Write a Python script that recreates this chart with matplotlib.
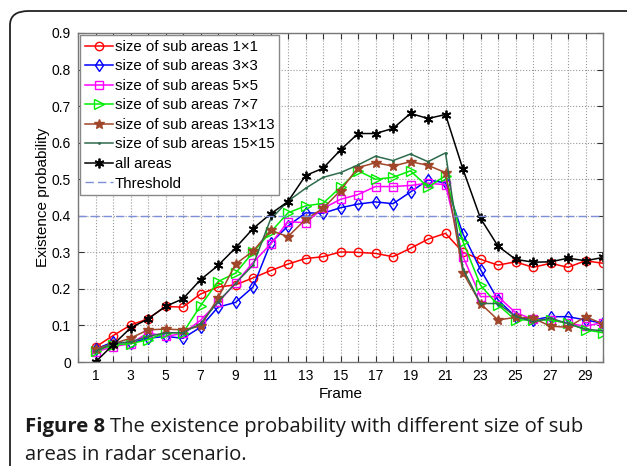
import matplotlib
matplotlib.use("Agg")
import matplotlib.pyplot as plt
from matplotlib.patches import FancyBboxPatch
import numpy as np

frames = list(range(1, 31))
s1x1 = [0.041, 0.072, 0.101, 0.118, 0.152, 0.150, 0.186, 0.205, 0.211, 0.230,
        0.250, 0.268, 0.283, 0.288, 0.301, 0.300, 0.297, 0.288, 0.311, 0.336,
        0.352, 0.300, 0.281, 0.265, 0.274, 0.259, 0.270, 0.259, 0.277, 0.270]
s3x3 = [0.035, 0.055, 0.052, 0.065, 0.070, 0.065, 0.095, 0.150, 0.163, 0.205,
        0.325, 0.372, 0.408, 0.407, 0.422, 0.432, 0.438, 0.433, 0.465, 0.498,
        0.490, 0.350, 0.253, 0.170, 0.124, 0.115, 0.124, 0.124, 0.115, 0.106]
s5x5 = [0.027, 0.042, 0.050, 0.080, 0.070, 0.078, 0.114, 0.163, 0.215, 0.272,
        0.322, 0.384, 0.381, 0.420, 0.445, 0.458, 0.480, 0.480, 0.483, 0.489,
        0.485, 0.288, 0.179, 0.179, 0.135, 0.117, 0.115, 0.106, 0.098, 0.108]
s7x7 = [0.030, 0.047, 0.050, 0.061, 0.080, 0.080, 0.154, 0.220, 0.243, 0.300,
        0.355, 0.408, 0.427, 0.434, 0.478, 0.523, 0.500, 0.505, 0.523, 0.478,
        0.510, 0.329, 0.210, 0.156, 0.115, 0.115, 0.115, 0.106, 0.088, 0.080]
s13x13 = [0.036, 0.050, 0.065, 0.088, 0.090, 0.088, 0.098, 0.175, 0.268, 0.303,
          0.360, 0.343, 0.390, 0.420, 0.469, 0.532, 0.545, 0.536, 0.548, 0.538,
          0.518, 0.244, 0.160, 0.115, 0.122, 0.120, 0.098, 0.095, 0.124, 0.104]
s15x15 = [0.030, 0.050, 0.055, 0.070, 0.080, 0.080, 0.105, 0.165, 0.215, 0.265,
          0.390, 0.440, 0.475, 0.505, 0.518, 0.539, 0.563, 0.551, 0.569, 0.548,
          0.572, 0.255, 0.160, 0.160, 0.125, 0.110, 0.120, 0.105, 0.090, 0.085]
all_areas = [0.000, 0.047, 0.093, 0.118, 0.152, 0.173, 0.225, 0.264, 0.312, 0.365,
             0.405, 0.439, 0.510, 0.530, 0.580, 0.625, 0.625, 0.639, 0.680, 0.666,
             0.677, 0.527, 0.393, 0.317, 0.281, 0.273, 0.274, 0.284, 0.277, 0.286]
threshold = 0.4

labels = ["size of sub areas 1\u00d71", "size of sub areas 3\u00d73",
          "size of sub areas 5\u00d75", "size of sub areas 7\u00d77",
          "size of sub areas 13\u00d713", "size of sub areas 15\u00d715",
          "all areas", "Threshold"]

plt.rcParams['font.family'] = ['Liberation Sans', 'DejaVu Sans']

fig = plt.figure(figsize=(6.27, 4.66), dpi=100)
ax = fig.add_axes([78/627, 1-362/466, (603-78)/627, (362-33)/466])

ax.plot(frames, s1x1, color='#ff0000', marker='o', mfc='none', ms=6, lw=1.1, label=labels[0])
ax.plot(frames, s3x3, color='#0000ff', marker='d', mfc='none', ms=6, lw=1.1, label=labels[1])
ax.plot(frames, s5x5, color='#ff00ff', marker='s', mfc='none', ms=6, lw=1.1, label=labels[2])
ax.plot(frames, s7x7, color='#00ee00', marker='>', mfc='none', ms=7, lw=1.1, label=labels[3])
ax.plot(frames, s13x13, color='#a0462a', marker='*', ms=7, lw=1.1, label=labels[4])
ax.plot(frames, s15x15, color='#2e6b4c', marker='.', ms=2, lw=1.1, label=labels[5])
ax.plot(frames, all_areas, color='#000000', marker=(6, 2, 0), ms=7, mew=1.3, lw=1.1, label=labels[6])
ax.axhline(threshold, color='#7d8fd8', ls='--', lw=1.0, dashes=(6, 3), label=labels[7])

ax.set_xlim(0, 30)
ax.set_ylim(0, 0.9)
ax.set_xticks(range(0, 31))
ax.set_xticklabels([str(i) if i % 2 == 1 else '' for i in range(0, 31)])
ax.set_yticks(np.arange(0, 0.91, 0.1))
ax.set_yticklabels(['0'] + ['%.1f' % v for v in np.arange(0.1, 0.91, 0.1)])
ax.tick_params(direction='in', length=4, labelsize=10, color='#333333', top=True, right=True, pad=5)
ax.grid(True, ls=':', color='#999999', lw=0.8)
for sp in ax.spines.values():
    sp.set_color('#777777')
    sp.set_linewidth(1.0)

ax.set_xlabel('Frame', fontsize=11, labelpad=3)
ax.set_ylabel('Existence probability', fontsize=11, labelpad=1)

leg = ax.legend(loc='upper left', fontsize=10.8, handlelength=1.9, labelspacing=0.37,
                borderpad=0.3, handletextpad=0.1, borderaxespad=0.15, fancybox=False,
                framealpha=1, edgecolor='#888888')
leg.get_frame().set_linewidth(1.0)

# figure border
border = FancyBboxPatch((10/627, -0.1), 1.2, 1 - 11/466 + 0.1, boxstyle='round,pad=0,rounding_size=0.03',
                        transform=fig.transFigure, fill=False, edgecolor='#222222', lw=1.3, clip_on=False)
fig.patches.append(border)

# caption
cap_font = ['Open Sans', 'DejaVu Sans']
cap_size = 14.6
t1 = fig.text(25/627, 1-432/466, 'Figure 8', fontsize=cap_size, fontweight='bold', family=cap_font,
              color='#1a1a1a', va='baseline')
fig.canvas.draw()
r = fig.canvas.get_renderer()
bb = t1.get_window_extent(r)
fig.text((bb.x1 + 5)/627, 1-432/466, 'The existence probability with different size of sub',
         fontsize=cap_size, family=cap_font, color='#1a1a1a', va='baseline')
fig.text(25/627, 1-460/466, 'areas in radar scenario.', fontsize=cap_size, family=cap_font,
         color='#1a1a1a', va='baseline')

fig.savefig('out.png', dpi=100)
